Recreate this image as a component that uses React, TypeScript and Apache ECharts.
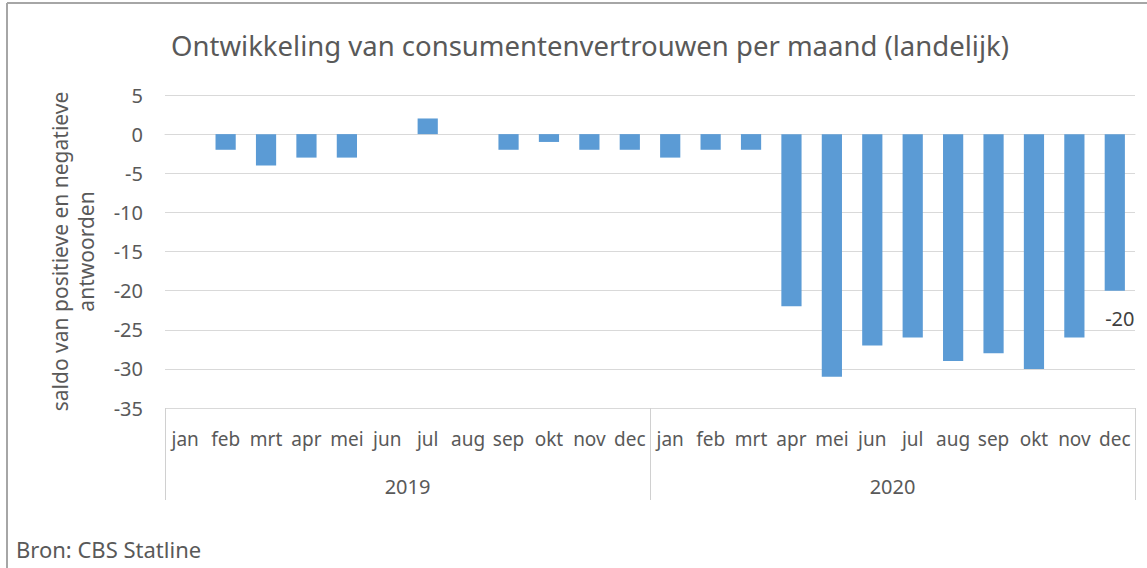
import React, { useEffect, useRef } from "react";
import * as echarts from "echarts";

const months = ["jan", "feb", "mrt", "apr", "mei", "jun", "jul", "aug", "sep", "okt", "nov", "dec"];
const years = ["2019", "2020"];
const values2019 = [0, -2, -4, -3, -3, 0, 2, 0, -2, -1, -2, -2];
const values2020 = [-3, -2, -2, -22, -31, -27, -26, -29, -28, -30, -26, -20];
const yTicks = { min: -35, max: 5, interval: 5 };

const title = "Ontwikkeling van consumentenvertrouwen per maand (landelijk)";
const yName = "saldo van positieve en negatieve\nantwoorden";
const source = "Bron: CBS Statline";

export default function App() {
  const ref = useRef<HTMLDivElement>(null);
  useEffect(() => {
    if (!ref.current) return;
    const chart = echarts.init(ref.current, null, { renderer: "svg" });
    const font = "'Noto Sans', sans-serif";
    const cats = [...months, ...months];
    const vals = [...values2019, ...values2020];
    const data = vals.map((v, i) =>
      i === vals.length - 1
        ? {
            value: v,
            label: {
              show: true,
              position: "bottom",
              distance: 18,
              offset: [5, 0],
              color: "#404040",
              fontSize: 20,
              fontFamily: font,
            },
          }
        : v
    );
    chart.setOption({
      animation: false,
      backgroundColor: "#ffffff",
      title: {
        text: title,
        left: 585,
        top: 26,
        textAlign: "center",
        textStyle: { color: "#595959", fontSize: 27.5, fontWeight: "normal", fontFamily: font },
      },
      graphic: [
        { type: "line", shape: { x1: 7, y1: 3, x2: 1147, y2: 3 }, style: { stroke: "#a6a6a6", lineWidth: 2 } },
        { type: "line", shape: { x1: 7, y1: 3, x2: 7, y2: 568 }, style: { stroke: "#a6a6a6", lineWidth: 2 } },
        {
          type: "text",
          left: 16,
          top: 538,
          style: { text: source, fill: "#595959", fontSize: 22, fontFamily: font },
        },
      ],
      grid: { left: 165, right: 12, top: 95, bottom: 160 },
      xAxis: [
        {
          type: "category",
          data: cats,
          position: "bottom",
          axisLine: { show: true, lineStyle: { color: "#d9d9d9", width: 1 } },
          axisTick: { show: false },
          axisLabel: { color: "#595959", fontSize: 19, fontFamily: font, margin: 21, interval: 0 },
        },
        {
          type: "category",
          data: years,
          position: "bottom",
          axisLine: { show: false },
          axisTick: { show: true, length: 92, interval: 0, lineStyle: { color: "#d0d0d0", width: 1 } },
          axisLabel: { color: "#595959", fontSize: 20, fontFamily: font, margin: 68 },
        },
      ],
      yAxis: {
        type: "value",
        min: yTicks.min,
        max: yTicks.max,
        interval: yTicks.interval,
        name: yName,
        nameLocation: "middle",
        nameGap: 66,
        nameTextStyle: { color: "#595959", fontSize: 21, fontFamily: font, lineHeight: 26 },
        axisLine: { show: false },
        axisTick: { show: false },
        axisLabel: { color: "#595959", fontSize: 20, fontFamily: font, margin: 22 },
        splitLine: { lineStyle: { color: "#d9d9d9", width: 1 } },
      },
      series: [
        {
          type: "bar",
          xAxisIndex: 0,
          data,
          barWidth: "50%",
          itemStyle: { color: "#5b9bd5" },
        },
      ],
    });
    return () => chart.dispose();
  }, []);
  return <div ref={ref} style={{ position: "fixed", left: 0, top: 0, width: 1147, height: 568 }} />;
}
